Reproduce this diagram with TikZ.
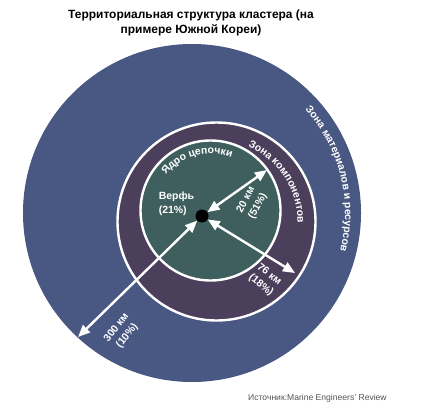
\documentclass[tikz,border=0pt]{standalone}
\usepackage{fontspec}
\setmainfont{Liberation Sans}
\usetikzlibrary{arrows.meta,decorations.text,calc}
\definecolor{outerblue}{RGB}{73,88,130}
\definecolor{ringpurple}{RGB}{75,63,92}
\definecolor{innerteal}{RGB}{62,95,93}
\definecolor{srcgray}{RGB}{85,85,85}
\begin{document}
\begin{tikzpicture}[x=1bp,y=1bp,
  zone/.style={line width=2.4bp, draw=white},
  arr/.style={draw=white, line width=2.4bp, {Triangle[length=12bp,width=10bp]}-{Triangle[length=12bp,width=10bp]}},
  lbl/.style={text=white, font=\bfseries\fontsize{10.5}{13.5}\selectfont, align=center, inner sep=0pt},
  arclbl/.style={decorate, decoration={text along path, text align=center, text color=white}}
]
\useasboundingbox (0,0) rectangle (444,417);
\fill[white] (0,0) rectangle (444,417);
\coordinate (O) at (192,204);
\coordinate (R) at (216.5,195.5);
\coordinate (I) at (210.5,206.5);
% zones
\node[circle, fill=outerblue, minimum size=338bp, inner sep=0] (outer) at (O) {};
\node[circle, fill=ringpurple, zone, minimum size=198bp, inner sep=0] (ring) at (R) {};
\node[circle, fill=innerteal, zone, minimum size=140bp, inner sep=0] (core) at (I) {};
% arrow end points
\coordinate (e1) at (267,247);
\coordinate (e2) at (295,144);
\coordinate (e3) at (78,80);
\node[circle, fill=black, minimum size=13bp, inner sep=0] (yard) at (202,201) {};
\draw[arr] (yard) -- (e1);
\draw[arr] (yard) -- (e2);
\draw[arr] (yard) -- (e3);
% arc labels
\path[arclbl, decoration={text={|\bfseries\fontsize{10.5}{10.5}\selectfont|Ядро цепочки}}]
  ($(I)+(144:57)$) arc[start angle=144, end angle=66, radius=57];
\path[arclbl, decoration={text={|\bfseries\fontsize{10.5}{10.5}\selectfont|Зона компонентов}}]
  ($(R)+(72:81)$) arc[start angle=72, end angle=-6, radius=81];
\path[arclbl, decoration={text={|\bfseries\fontsize{10.5}{10.5}\selectfont|Зона материалов и ресурсов}}]
  ($(O)+(46:153)$) arc[start angle=46, end angle=-18, radius=153];
% labels
\node[lbl, align=left] (verf) at (176.5,213) {Верфь\\(21\%)};
\node[lbl, rotate=62] (l20) at (252,214) {20 км\\(51\%)};
\node[lbl, rotate=-38] (l76) at (265,137) {76 км\\(18\%)};
\node[lbl, rotate=52] (l300) at (122,85) {300 км\\(10\%)};
% title and source
\node[font=\bfseries\fontsize{12}{15}\selectfont, align=center, inner sep=0] (title) at (191,394.5) {Территориальная структура кластера (на\\примере Южной Кореи)};
\node[text=srcgray, font=\fontsize{8.6}{9}\selectfont, anchor=west, inner sep=0] (src) at (248,19) {Источник:Marine Engineers' Review};
\end{tikzpicture}
\end{document}
